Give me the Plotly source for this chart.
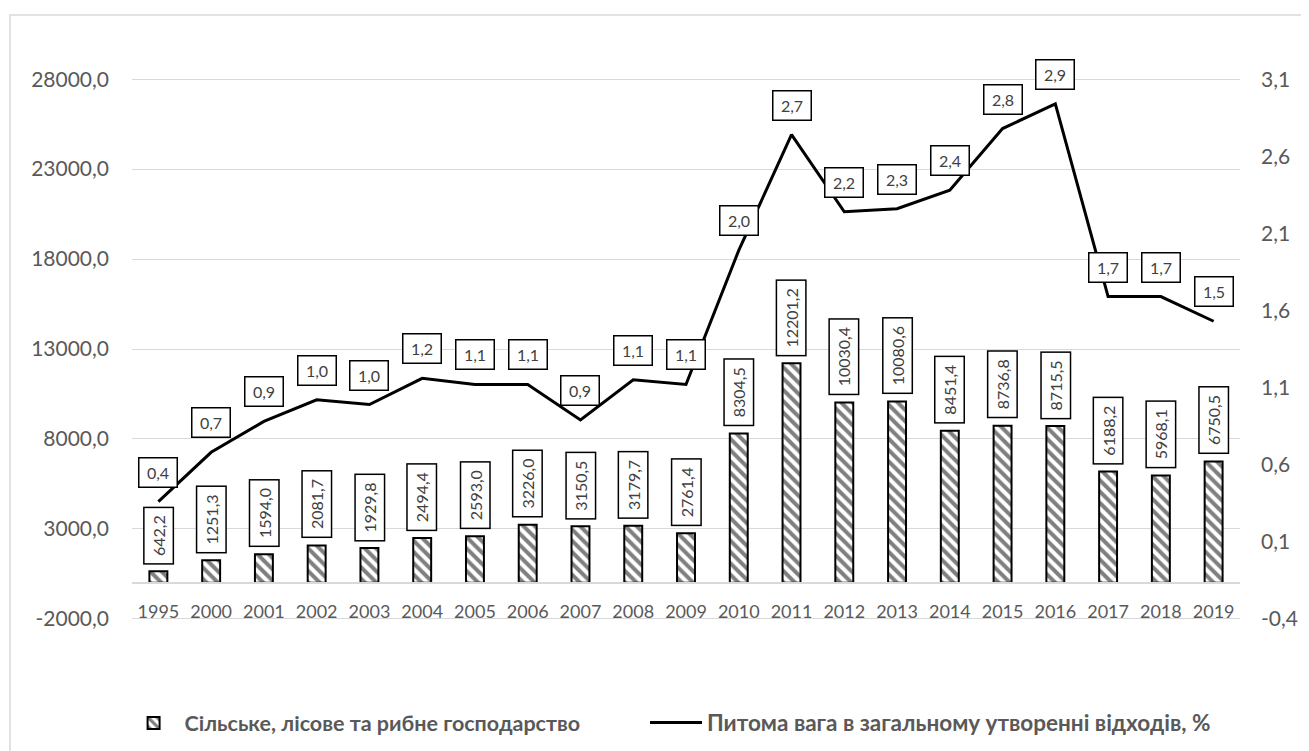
import plotly.graph_objects as go

years = ["1995", "2000", "2001", "2002", "2003", "2004", "2005", "2006", "2007", "2008",
         "2009", "2010", "2011", "2012", "2013", "2014", "2015", "2016", "2017", "2018", "2019"]
waste = [642.2, 1251.3, 1594.0, 2081.7, 1929.8, 2494.4, 2593.0, 3226.0, 3150.5, 3179.7,
         2761.4, 8304.5, 12201.2, 10030.4, 10080.6, 8451.4, 8736.8, 8715.5, 6188.2, 5968.1, 6750.5]
share = [0.36, 0.68, 0.88, 1.02, 0.99, 1.16, 1.12, 1.12, 0.89, 1.15,
         1.12, 1.99, 2.74, 2.24, 2.26, 2.38, 2.78, 2.94, 1.69, 1.69, 1.53]
share_labels = ["0,4", "0,7", "0,9", "1,0", "1,0", "1,2", "1,1", "1,1", "0,9", "1,1",
                "1,1", "2,0", "2,7", "2,2", "2,3", "2,4", "2,8", "2,9", "1,7", "1,7", "1,5"]

left_ticks = [-2000, 3000, 8000, 13000, 18000, 23000, 28000]
left_ticktext = ["-2000,0", "3000,0", "8000,0", "13000,0", "18000,0", "23000,0", "28000,0"]
right_ticks = [-0.4, 0.1, 0.6, 1.1, 1.6, 2.1, 2.6, 3.1]
right_ticktext = ["-0,4", "0,1", "0,6", "1,1", "1,6", "2,1", "2,6", "3,1"]

bar_name = "Сільське, лісове та рибне господарство"
line_name = "Питома вага в загальному утворенні відходів, %"

FONT = "Lato"
GRID = "#d9d9d9"
TICK_COL = "#595959"
LABEL_COL = "#404040"

# pad the ranges by ~1.2 px so the edge gridlines are kept
PAD_PX = 1.2
PLOT_H = 540.0
y_pad = PAD_PX * (left_ticks[-1] - left_ticks[0]) / PLOT_H
y2_pad = PAD_PX * (right_ticks[-1] - right_ticks[0]) / PLOT_H
y_range = [left_ticks[0] - y_pad, left_ticks[-1] + y_pad]
y2_range = [right_ticks[0] - y2_pad, right_ticks[-1] + y2_pad]

fig = go.Figure()
fig.add_trace(go.Bar(
    x=years, y=waste, name=bar_name, width=0.34, legend="legend",
    marker=dict(color="white", line=dict(color="black", width=2),
                pattern=dict(shape="\\", fgcolor="black", bgcolor="white", size=8, solidity=0.5)),
    yaxis="y", hoverinfo="skip",
))
fig.add_trace(go.Scatter(
    x=years, y=share, name=line_name, mode="lines", legend="legend2",
    line=dict(color="black", width=3), yaxis="y2", hoverinfo="skip",
))

def fmt(v):
    return f"{v:.1f}".replace(".", ",")

annotations = []
for i, v in enumerate(waste):
    txt = fmt(v)
    annotations.append(dict(
        x=i, y=v, xref="x", yref="y", text=txt, showarrow=False,
        textangle=-90, yanchor="bottom", xanchor="center", yshift=7,
        font=dict(family=FONT, size=16, color=LABEL_COL),
        bordercolor="black", borderwidth=1.5, borderpad=1, bgcolor="white",
        width=int(9.5 * len(txt) + 6), height=26,
    ))
for i, (v, lab) in enumerate(zip(share, share_labels)):
    annotations.append(dict(
        x=i, y=v, xref="x", yref="y2", text=lab, showarrow=False,
        yanchor="bottom", xanchor="center", yshift=14,
        font=dict(family=FONT, size=16, color=LABEL_COL),
        bordercolor="black", borderwidth=1.5, borderpad=1, bgcolor="white",
        width=35, height=26,
    ))

legend_common = dict(orientation="h", xanchor="left", y=-0.19, yanchor="middle",
                     itemwidth=52, bgcolor="rgba(0,0,0,0)")

fig.update_layout(
    width=1301, height=743,
    margin=dict(l=124, r=69, t=70, b=131, autoexpand=False),
    paper_bgcolor="white", plot_bgcolor="white",
    font=dict(family=FONT, color=TICK_COL),
    showlegend=True,
    legend=dict(x=-0.0085, font=dict(family=FONT, size=21.5, color=TICK_COL, weight="bold"),
                **legend_common),
    legend2=dict(x=0.463, font=dict(family=FONT, size=22.5, color=TICK_COL, weight="bold"),
                 **legend_common),
    xaxis=dict(type="category", anchor="free",
               position=(0 - y_range[0]) / (y_range[1] - y_range[0]),
               showline=True, linecolor=GRID, linewidth=1.5, showgrid=False,
               ticks="", ticklabelstandoff=13,
               tickfont=dict(family=FONT, size=18, color=TICK_COL),
               range=[-0.5, len(years) - 0.5]),
    yaxis=dict(range=y_range, tickvals=left_ticks, ticktext=left_ticktext,
               showgrid=True, gridcolor=GRID, gridwidth=1.3, zeroline=False,
               showline=False, ticks="", ticklabelstandoff=22,
               tickfont=dict(family=FONT, size=21, color=TICK_COL)),
    yaxis2=dict(range=y2_range, tickvals=right_ticks, ticktext=right_ticktext,
                overlaying="y", side="right", showgrid=False, zeroline=False,
                showline=False, ticks="", ticklabelstandoff=20,
                tickfont=dict(family=FONT, size=21, color=TICK_COL)),
    annotations=annotations,
    shapes=[dict(type="rect", xref="paper", yref="paper",
                 x0=(2 - 124) / 1108, x1=(1330 - 124) / 1108,
                 y0=(612 - 770) / 542, y1=(612 - 7) / 542,
                 line=dict(color=GRID, width=1.5), fillcolor="rgba(0,0,0,0)", layer="below")],
)

fig.write_html("out.html")
